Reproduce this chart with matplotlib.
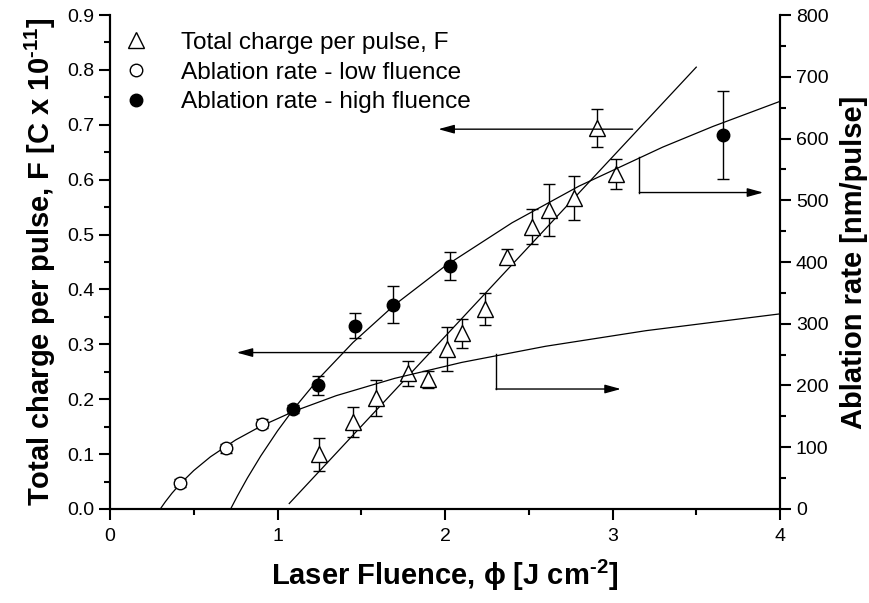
import matplotlib
matplotlib.use("Agg")
import matplotlib.pyplot as plt
from matplotlib.lines import Line2D

plt.rcParams['font.family'] = ['Liberation Sans', 'DejaVu Sans']
plt.rcParams['mathtext.default'] = 'regular'

# total charge per pulse (left axis)
fluence_q = [1.25, 1.45, 1.59, 1.78, 1.90, 2.01, 2.10, 2.24, 2.37, 2.52, 2.62, 2.77, 2.91, 3.02]
charge = [0.100, 0.159, 0.202, 0.247, 0.236, 0.291, 0.320, 0.364, 0.460, 0.514, 0.545, 0.566, 0.694, 0.610]
charge_err = [0.030, 0.027, 0.033, 0.023, 0.015, 0.040, 0.027, 0.029, 0.013, 0.032, 0.047, 0.040, 0.035, 0.027]

# ablation rate, low fluence (right axis)
fluence_low = [0.42, 0.69, 0.91]
rate_low = [42, 98, 138]
rate_low_err = [6, 7, 7]

# ablation rate, high fluence (right axis)
fluence_high = [1.09, 1.24, 1.46, 1.69, 2.03, 3.66]
rate_high = [162, 200, 297, 331, 394, 606]
rate_high_err = [6, 15, 20, 30, 23, 71]

# fitted curves
fit_q_x = [1.07, 3.50]
fit_q_y = [0.010, 0.805]
fit_low_x = [0.30, 0.33, 0.37, 0.42, 0.50, 0.60, 0.75, 0.90, 1.10, 1.35, 1.70, 2.10, 2.60, 3.20, 4.00]
fit_low_y = [0, 11.6, 25.6, 41.0, 62.3, 84.6, 111.8, 134.0, 158.5, 183.5, 211.6, 237.4, 263.5, 288.8, 316.0]
fit_high_x = [0.72, 0.76, 0.82, 0.90, 1.00, 1.10, 1.25, 1.45, 1.70, 2.00, 2.40, 2.80, 3.30, 3.60, 4.00]
fit_high_y = [0, 20.8, 50.1, 85.9, 126.5, 163.2, 212.4, 269.5, 330.8, 393.3, 463.5, 522.9, 586.1, 619.6, 660.2]

fig = plt.figure(figsize=(8.69, 6.03), dpi=100)
ax = fig.add_axes([0.1266, 0.1559, 0.7710, 0.8192])
ax2 = ax.twinx()

lw = 0.9
ax.plot(fit_q_x, fit_q_y, color='black', lw=lw)
ax2.plot(fit_low_x, fit_low_y, color='black', lw=lw)
ax2.plot(fit_high_x, fit_high_y, color='black', lw=lw)

eb = dict(color='black', ecolor='black', elinewidth=1.0, capsize=4, capthick=1.0, ls='none')
ax.errorbar(fluence_q, charge, yerr=charge_err, marker='^', ms=11, mfc='white', mec='black', mew=1.0, **eb)
ax2.errorbar(fluence_low, rate_low, yerr=rate_low_err, marker='o', ms=9, mfc='white', mec='black', mew=1.0, **eb)
ax2.errorbar(fluence_high, rate_high, yerr=rate_high_err, marker='o', ms=9, mfc='black', mec='black', **eb)

# arrows pointing to the axis that belongs to each curve
ap = dict(arrowstyle='-|>,head_length=0.8,head_width=0.22', color='black', lw=1.0,
          mutation_scale=12, shrinkA=0, shrinkB=0)
ax.annotate('', xy=(1.96, 0.692), xytext=(3.12, 0.692), arrowprops=ap)
ax.annotate('', xy=(0.756, 0.285), xytext=(1.916, 0.285), arrowprops=ap)
ax2.plot([3.16, 3.16], [570, 512.5], color='black', lw=1.0)
ax2.annotate('', xy=(3.90, 512.5), xytext=(3.16, 512.5), arrowprops=ap)
ax2.plot([2.304, 2.304], [251.5, 194.3], color='black', lw=1.0)
ax2.annotate('', xy=(3.05, 194.3), xytext=(2.304, 194.3), arrowprops=ap)

ax.set_xlim(0, 4)
ax.set_ylim(0, 0.9)
ax2.set_ylim(0, 800)
ax.set_xticks([0, 1, 2, 3, 4])
ax.set_xticks([0.5, 1.5, 2.5, 3.5], minor=True)
ax.set_yticks([i / 10 for i in range(10)])
ax.set_yticklabels(['%.1f' % (i / 10) for i in range(10)])
ax.set_yticks([0.05 + i / 10 for i in range(9)], minor=True)
ax2.set_yticks(range(0, 801, 100))
ax2.set_yticks(range(50, 800, 100), minor=True)

for a in (ax, ax2):
    a.spines['top'].set_visible(False)
    for s in a.spines.values():
        s.set_linewidth(1.5)
    a.tick_params(which='major', length=8, width=1.5, labelsize=14)
    a.tick_params(which='minor', length=4, width=1.5)
ax.tick_params(axis='x', pad=6)

hy = '\u2010'  # plain hyphen in the exponents, as in the original
ax.set_xlabel('Laser Fluence, $\\phi$ [J cm$^{%s2}$]' % hy, fontsize=21, fontweight='bold', labelpad=9)
ax.set_ylabel('Total charge per pulse, F [C x 10$^{%s11}$]' % hy, fontsize=21, fontweight='bold', labelpad=6)
ax2.set_ylabel('Ablation rate [nm/pulse]', fontsize=21, fontweight='bold', labelpad=8)

handles = [
    Line2D([], [], ls='none', marker='^', ms=11, mfc='white', mec='black'),
    Line2D([], [], ls='none', marker='o', ms=9, mfc='white', mec='black'),
    Line2D([], [], ls='none', marker='o', ms=9, mfc='black', mec='black'),
]
labels = ['Total charge per pulse, F', 'Ablation rate - low fluence', 'Ablation rate - high fluence']
ax.legend(handles, labels, loc='upper left', bbox_to_anchor=(0.009, 0.981), frameon=False,
          fontsize=17.6, handlelength=1.0, handletextpad=1.36, labelspacing=0.31,
          borderpad=0.3, borderaxespad=0)

fig.savefig('out.png', dpi=100)
